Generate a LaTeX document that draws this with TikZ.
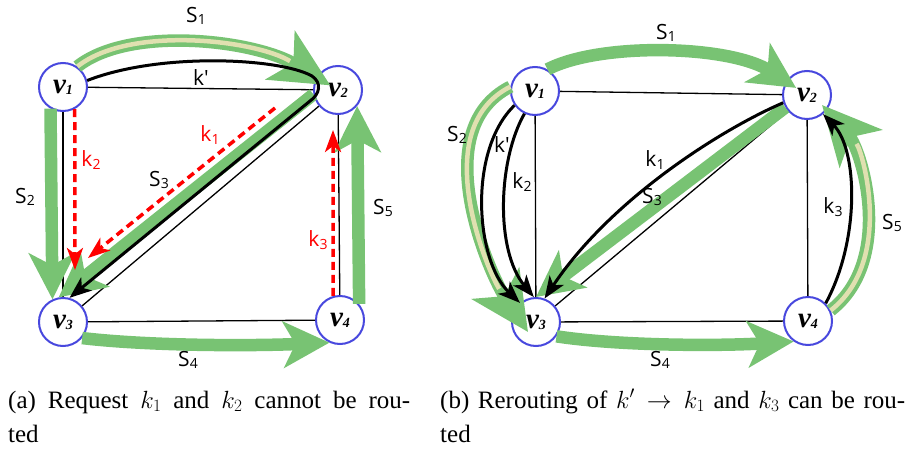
\documentclass[tikz,border=0pt]{standalone}
\usepackage{fontspec}
\setmainfont{Liberation Serif}
\setsansfont{Open Sans}
\usetikzlibrary{arrows.meta}

\definecolor{vblue}{RGB}{72,72,222}
\definecolor{sgreen}{RGB}{120,195,115}
\definecolor{sbeige}{RGB}{224,224,176}

\newcommand{\vfont}{\fontsize{29}{29}\selectfont\bfseries\itshape}
\newcommand{\labfont}{\sffamily\fontsize{21}{21}\selectfont}
\newcommand{\vname}[1]{v\raisebox{-1pt}{\fontsize{14}{14}\selectfont #1}}
\newcommand{\lsub}[1]{\raisebox{-2.5pt}{\fontsize{14}{14}\selectfont #1}}
\newcommand{\kprime}{k\textquotesingle}

\begin{document}
\begin{tikzpicture}[x=1pt,y=-1pt]

    \useasboundingbox (0,0) rectangle (910,450);

    \tikzset{vert/.style={circle, draw=vblue, line width=2pt, fill=white, minimum size=48pt, inner sep=0pt, font=\vfont}}
    \tikzset{edge/.style={line width=1.3pt}}
    \tikzset{flow/.style={draw=sgreen, line width=12.5pt, -{Stealth[length=46pt,width=46pt,inset=12pt]}}}
    \tikzset{bighead/.style={-{Stealth[length=58pt,width=56pt,inset=15pt]}}}
    \tikzset{used/.style={draw=sbeige, line width=4.5pt}}
    \tikzset{req/.style={line width=3pt, -{Stealth[length=22pt,width=17pt,inset=6pt]}}}
    \tikzset{blocked/.style={red, line width=3.5pt, dash pattern=on 8pt off 5pt, -{Stealth[length=22pt,width=16pt,inset=6pt]}}}
    \tikzset{lab/.style={font=\labfont, inner sep=0pt}}
    \tikzset{subcap/.style={font=\fontsize{25}{34}\selectfont, text width=402pt, align=justify, inner sep=0pt, anchor=base west}}

    % (a) nodes + links
    \node[vert] (l1) at (63,87)   {\vname{1}};
    \node[vert] (l2) at (338,90)  {\vname{2}};
    \node[vert] (l3) at (63,322)  {\vname{3}};
    \node[vert] (l4) at (340,320) {\vname{4}};
    \draw[edge] (l1) -- (l2);
    \draw[edge] (l1) -- (l3);
    \draw[edge] (l2) -- (l4);
    \draw[edge] (l3) -- (l4);
    \draw[edge] (l2) -- (l3);

    % (a) sessions
    \draw[flow, bighead, shorten >=9pt] (l1.55) .. controls (130,25) and (255,40) .. (l2.center);
    \draw[used, shorten >=56pt] (l1.55) .. controls (130,25) and (255,40) .. (l2.center);
    \draw[flow] (l1.240) -- (l3.115);
    \draw[flow] (l2.190) -- (l3.100);
    \draw[flow] (l3.-40) .. controls (150,346) and (250,346) .. (l4.245);
    \draw[flow] (l4.40) -- (l2.-40);

    % (a) requests
    \draw[req] (l1.15) .. controls (160,52) and (280,58) .. (312,76) .. controls (322,83) and (320,94) .. (310,101) -- (l3.75);
    \coordinate (k1from) at (275,108);
    \coordinate (k1to) at (88,258);
    \coordinate (k2to) at (75,270);
    \coordinate (k3to) at (333,130);
    \draw[blocked] (k1from) -- (k1to);
    \draw[blocked] (l1.-62) -- (k2to);
    \draw[blocked] (l4.106) -- (k3to);

    \node[lab] (as1) at (196,16)  {S\lsub{1}};
    \node[lab] (as2) at (25,197)  {S\lsub{2}};
    \node[lab] (as3) at (159,180) {S\lsub{3}};
    \node[lab] (as4) at (188,360) {S\lsub{4}};
    \node[lab] (as5) at (383,208) {S\lsub{5}};
    \node[lab] (akp) at (201,78)  {\kprime};
    \node[lab, text=red] (ak1) at (210,135) {k\lsub{1}};
    \node[lab, text=red] (ak2) at (91,160)  {k\lsub{2}};
    \node[lab, text=red] (ak3) at (318,240) {k\lsub{3}};

    % (b) nodes + links
    \node[vert] (r1) at (535,91)  {\vname{1}};
    \node[vert] (r2) at (807,95)  {\vname{2}};
    \node[vert] (r3) at (536,322) {\vname{3}};
    \node[vert] (r4) at (808,321) {\vname{4}};
    \draw[edge] (r1) -- (r2);
    \draw[edge] (r1) -- (r3);
    \draw[edge] (r2) -- (r4);
    \draw[edge] (r3) -- (r4);
    \draw[edge] (r2) -- (r3);

    % (b) sessions
    \draw[flow, shorten >=13pt] (r1.60) .. controls (600,42) and (730,45) .. (r2.center);
    \draw[flow, bighead] (r1.170) .. controls (425,130) and (490,275) .. ([shift={(-8,10)}]r3.center);
    \draw[used, shorten >=52pt] (r1.170) .. controls (425,130) and (490,275) .. ([shift={(-8,10)}]r3.center);
    \draw[flow] (r2.210) -- (r3.90);
    \draw[flow] (r3.-35) .. controls (620,346) and (720,346) .. (r4.235);
    \draw[flow, bighead] (r4.25) .. controls (895,260) and (862,150) .. ([shift={(15,10)}]r2.center);
    \draw[used, shorten >=52pt] (r4.25) .. controls (895,260) and (862,150) .. ([shift={(15,10)}]r2.center);

    % (b) rerouted requests
    \draw[req] (r1.215) .. controls (468,150) and (475,260) .. (r3.130);
    \draw[req] (r1.245) .. controls (498,160) and (495,250) .. (r3.95);
    \draw[req] (r2.198) .. controls (720,130) and (610,200) .. (r3.70);
    \draw[req] (r4.45) .. controls (860,240) and (858,150) .. (r2.-50);

    \node[lab] (bs1) at (666,33)  {S\lsub{1}};
    \node[lab] (bs2) at (457,135) {S\lsub{2}};
    \node[lab] (bs3) at (652,197) {S\lsub{3}};
    \node[lab] (bs4) at (660,360) {S\lsub{4}};
    \node[lab] (bs5) at (892,223) {S\lsub{5}};
    \node[lab] (bkp) at (502,145) {\kprime};
    \node[lab] (bk1) at (655,160) {k\lsub{1}};
    \node[lab] (bk2) at (522,182) {k\lsub{2}};
    \node[lab] (bk3) at (833,207) {k\lsub{3}};

    % captions
    \node[subcap] (capa) at (8,408)   {(a) Request $k_1$ and $k_2$ cannot be rou-\linebreak ted};
    \node[subcap, text width=465pt] (capb) at (440,408) {(b) Rerouting of $k'\rightarrow k_1$ and $k_3$ can be rou-\linebreak ted};

\end{tikzpicture}
\end{document}
